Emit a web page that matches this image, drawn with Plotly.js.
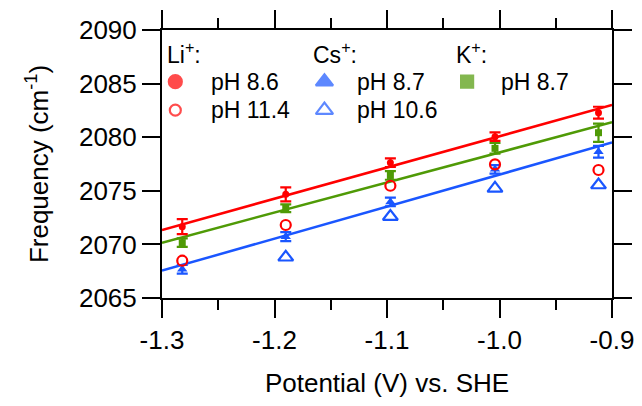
<!DOCTYPE html>
<html>
<head>
<meta charset="utf-8">
<script src="https://cdn.plot.ly/plotly-3.0.1.min.js"></script>
<style>html,body{margin:0;padding:0;background:#fff;}#chart{width:642px;height:406px;}</style>
</head>
<body>
<div id="chart"></div>
<script>
// Potentials (V vs. SHE)
const potential = [-1.282, -1.190, -1.097, -1.004, -0.912];
// Li+ pH 8.6 (filled circles) with error bars
const liPh86 = [2071.65, 2074.67, 2077.62, 2080.05, 2082.29];
const liPh86Err = [0.7, 0.65, 0.4, 0.4, 0.55];
// Li+ pH 11.4 (open circles)
const liPh114 = [2068.48, 2071.81, 2075.47, 2077.47, 2076.94];
// Cs+ pH 8.7 (filled triangles) with error bars
const csPh87 = [2067.68, 2070.72, 2073.96, 2077.0, 2078.65];
const csPh87Err = [0.4, 0.42, 0.4, 0.4, 0.55];
// Cs+ pH 10.6 (open triangles)
const csPh106 = [null, 2068.8, 2072.6, 2075.23, 2075.54];
// K+ pH 8.7 (filled squares) with error bars
const kPh87 = [2070.16, 2073.37, 2076.43, 2078.96, 2080.42];
const kPh87Err = [0.4, 0.36, 0.4, 0.5, 0.85];
// Linear fit lines (end points)
const fitX = [-1.3, -0.9];
const fitLi = [2071.35, 2083.0];
const fitK = [2070.16, 2081.39];
const fitCs = [2067.55, 2079.5];
// Axis ticks
const xTickVals = [-1.3, -1.2, -1.1, -1.0, -0.9];
const xTickText = ['-1.3', '-1.2', '-1.1', '-1.0', '-0.9'];
const xMinorVals = [-1.25, -1.15, -1.05, -0.95];
const yTickVals = [2065, 2070, 2075, 2080, 2085, 2090];

const RED = '#ff0000', BLUE = '#1a56ff', GREEN = '#4f9a06';
const FONT = 'Liberation Sans, Arial, sans-serif';

function errBar(arr, color) {
  return {type: 'data', array: arr, visible: true, color: color, thickness: 2.2, width: 5.5};
}

const traces = [
  {x: fitX, y: fitLi, mode: 'lines', line: {color: RED, width: 2.5}, hoverinfo: 'skip'},
  {x: fitX, y: fitK, mode: 'lines', line: {color: GREEN, width: 2.5}, hoverinfo: 'skip'},
  {x: fitX, y: fitCs, mode: 'lines', line: {color: BLUE, width: 2.5}, hoverinfo: 'skip'},
  {x: potential, y: liPh86, mode: 'markers', error_y: errBar(liPh86Err, RED),
   marker: {symbol: 'circle', size: 7, color: RED}},
  {x: potential, y: kPh87, mode: 'markers', error_y: errBar(kPh87Err, GREEN),
   marker: {symbol: 'square', size: 7, color: GREEN}},
  {x: potential, y: csPh87, mode: 'markers', error_y: errBar(csPh87Err, BLUE),
   marker: {symbol: 'triangle-up', size: 9, color: BLUE}},
  {x: potential, y: liPh114, mode: 'markers',
   marker: {symbol: 'circle-open', size: 10, color: RED, line: {width: 2.2, color: RED}}},
  {x: potential, y: csPh106, mode: 'markers',
   marker: {symbol: 'triangle-up-open', size: 13, color: BLUE, line: {width: 2.2, color: BLUE}}},
  // legend symbols (overlay axis in 0..1 units)
  {x: [0.0296, 0.0296, 0.361, 0.361, 0.678], y: [0.807, 0.701, 0.807, 0.701, 0.807],
   xaxis: 'x2', yaxis: 'y2', mode: 'markers', hoverinfo: 'skip',
   marker: {symbol: ['circle', 'circle-open', 'triangle-up', 'triangle-up-open', 'square'],
            size: [13, 11, 15, 15, 12], color: [RED, RED, BLUE, BLUE, GREEN],
            line: {width: 2.2, color: [RED, RED, BLUE, BLUE, GREEN]}}}
];

const axisCommon = {
  showline: true, linewidth: 2, linecolor: '#000', mirror: 'allticks',
  ticks: 'outside', ticklen: 18, tickwidth: 2, tickcolor: '#000',
  showgrid: false, zeroline: false,
  tickfont: {family: FONT, size: 26, color: '#000'}
};

function ann(text, x, y) {
  return {text: text, x: x, y: y, xref: 'paper', yref: 'paper', xanchor: 'left', yanchor: 'middle',
          showarrow: false, font: {family: FONT, size: 23, color: '#000'}};
}

const layout = {
  width: 642, height: 406,
  margin: {l: 162, r: 30, t: 30, b: 108},
  paper_bgcolor: '#fff', plot_bgcolor: '#fff',
  showlegend: false,
  xaxis: Object.assign({}, axisCommon, {
    range: [-1.3, -0.9], tickvals: xTickVals, ticktext: xTickText,
    minor: {tickvals: xMinorVals, ticks: 'outside', ticklen: 10, tickwidth: 2, tickcolor: '#000'},
    title: {text: 'Potential (V) vs. SHE', font: {family: FONT, size: 26, color: '#000'}, standoff: 20}
  }),
  yaxis: Object.assign({}, axisCommon, {
    range: [2065, 2090], tickvals: yTickVals,
    title: {text: 'Frequency (cm<sup>-1</sup>)', font: {family: FONT, size: 26, color: '#000'}, standoff: 23}
  }),
  xaxis2: {overlaying: 'x', range: [0, 1], visible: false, fixedrange: true},
  yaxis2: {overlaying: 'y', range: [0, 1], visible: false, fixedrange: true},
  annotations: [
    ann('Li<sup>+</sup>:', 0.006, 0.916),
    ann('Cs<sup>+</sup>:', 0.332, 0.916),
    ann('K<sup>+</sup>:', 0.649, 0.916),
    ann('pH 8.6', 0.105, 0.807),
    ann('pH 11.4', 0.105, 0.701),
    ann('pH 8.7', 0.428, 0.807),
    ann('pH 10.6', 0.428, 0.701),
    ann('pH 8.7', 0.749, 0.807)
  ]
};

Plotly.newPlot('chart', traces, layout, {displayModeBar: false, staticPlot: true});
</script>
</body>
</html>
